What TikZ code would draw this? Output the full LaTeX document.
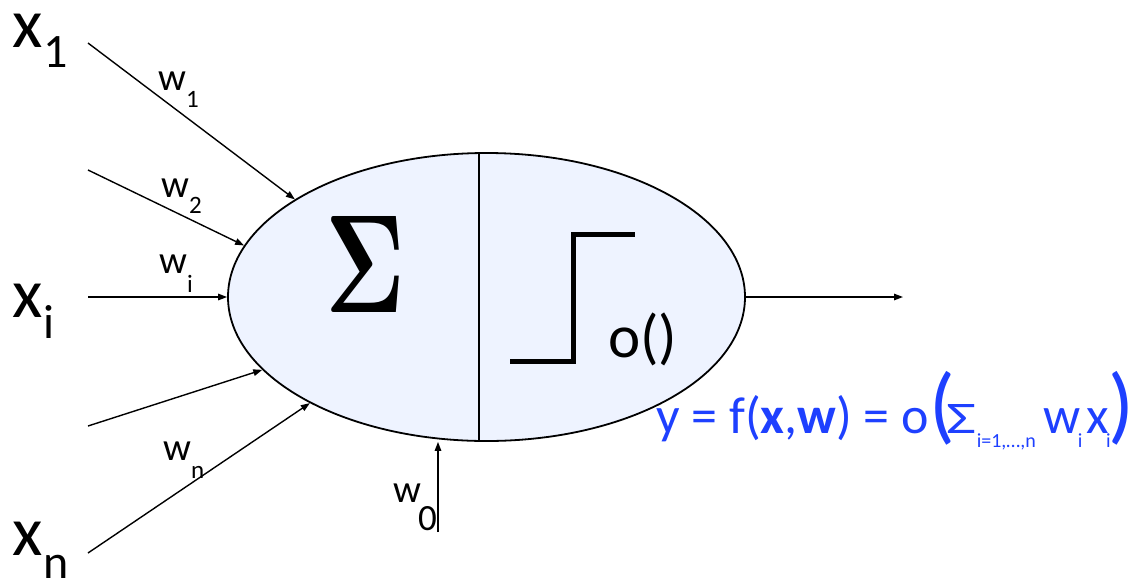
\documentclass[tikz,border=0pt]{standalone}
\usepackage[no-math]{fontspec}
\setmainfont{Carlito}
\usetikzlibrary{shapes.geometric,arrows.meta}
\definecolor{cellfill}{HTML}{EEF3FF}
\definecolor{eqblue}{RGB}{30,64,255}
\newcommand{\mysub}[3]{\raisebox{#1}{\fontsize{#2}{#2}\selectfont #3}}
\begin{document}
\begin{tikzpicture}[x=1pt,y=-1pt,
  inarrow/.style={line width=1.4pt,-{Triangle[length=9pt,width=6.5pt]}},
  biglab/.style={anchor=base west,inner sep=0pt,font=\fontsize{70}{70}\selectfont},
  wlab/.style={anchor=base west,inner sep=0pt,font=\fontsize{39}{39}\selectfont},
  formula/.style={anchor=base west,inner sep=0pt,text=eqblue,font=\fontsize{52}{52}\selectfont}]
\useasboundingbox (0,0) rectangle (1134,579);
% neuron body
\node[draw,ellipse,fill=cellfill,line width=1.8pt,inner sep=0pt,
      minimum width=517pt,minimum height=288pt] (neuron) at (486.5,297) {};
\draw[line width=1.5pt] ([xshift=-7.5pt]neuron.north) -- ([xshift=-7.5pt]neuron.south);
% sigma and step
\node[anchor=south,inner sep=0pt] (sigma) at (365,313) {\resizebox{80pt}{96pt}{$\mathbf{\Sigma}$}};
\draw[line width=5pt] (510,361.5) -- (573.5,361.5) -- (573.5,234.5) -- (635,234.5);
\node[anchor=base west,inner sep=0pt,font=\fontsize{61}{61}\selectfont] (act) at (608,357) {o()};
% inputs
\coordinate (s1) at (88,43);
\coordinate (s2) at (88,170);
\coordinate (s3) at (88,297);
\coordinate (s4) at (88,426);
\coordinate (s5) at (88,553);
\coordinate (s0) at (438,532);
\coordinate (out) at (903,297);
\draw[inarrow] (s1) -- (neuron.153.5);
\draw[inarrow] (s2) -- (neuron.168.9);
\draw[inarrow] (s3) -- (neuron.west);
\draw[inarrow] (s4) -- (neuron.198.9);
\draw[inarrow] (s5) -- (neuron.211.9);
\draw[inarrow] (s0) -- (s0 |- neuron.south);
\draw[inarrow] (neuron.east) -- (out);
% input labels
\node[biglab] (x1) at (12,47) {x\kern1pt\mysub{-20pt}{48}{1}};
\node[biglab] (xi) at (12,317) {x\kern1pt\mysub{-21pt}{48}{i}};
\node[biglab] (xn) at (12,555) {x\kern1pt\mysub{-23pt}{48}{n}};
% weight labels
\node[wlab] (w1) at (158,90) {w\mysub{-17pt}{25}{1}};
\node[wlab] (w2) at (161,197) {w\mysub{-16pt}{25}{2}};
\node[wlab] (wi) at (159,273) {w\mysub{-19pt}{25}{i}};
\node[wlab] (wn) at (163,460) {w\mysub{-18pt}{25}{n}};
\node[wlab] (w0) at (393,502) {w\kern-3pt\mysub{-28pt}{37}{0}};
% formula
\node[formula] (eq) at (656,433) {y = f(\textbf{x},\textbf{w}) = o{\fontsize{85}{85}\selectfont(}\kern-8pt\resizebox{30pt}{29pt}{Σ}\mysub{-14pt}{20}{i=1,…,n}\kern8pt w\kern-3pt\mysub{-14pt}{20}{i}\kern4pt x\kern-3pt\mysub{-14pt}{20}{i}\kern-2pt{\fontsize{85}{85}\selectfont)}};
\end{tikzpicture}
\end{document}
